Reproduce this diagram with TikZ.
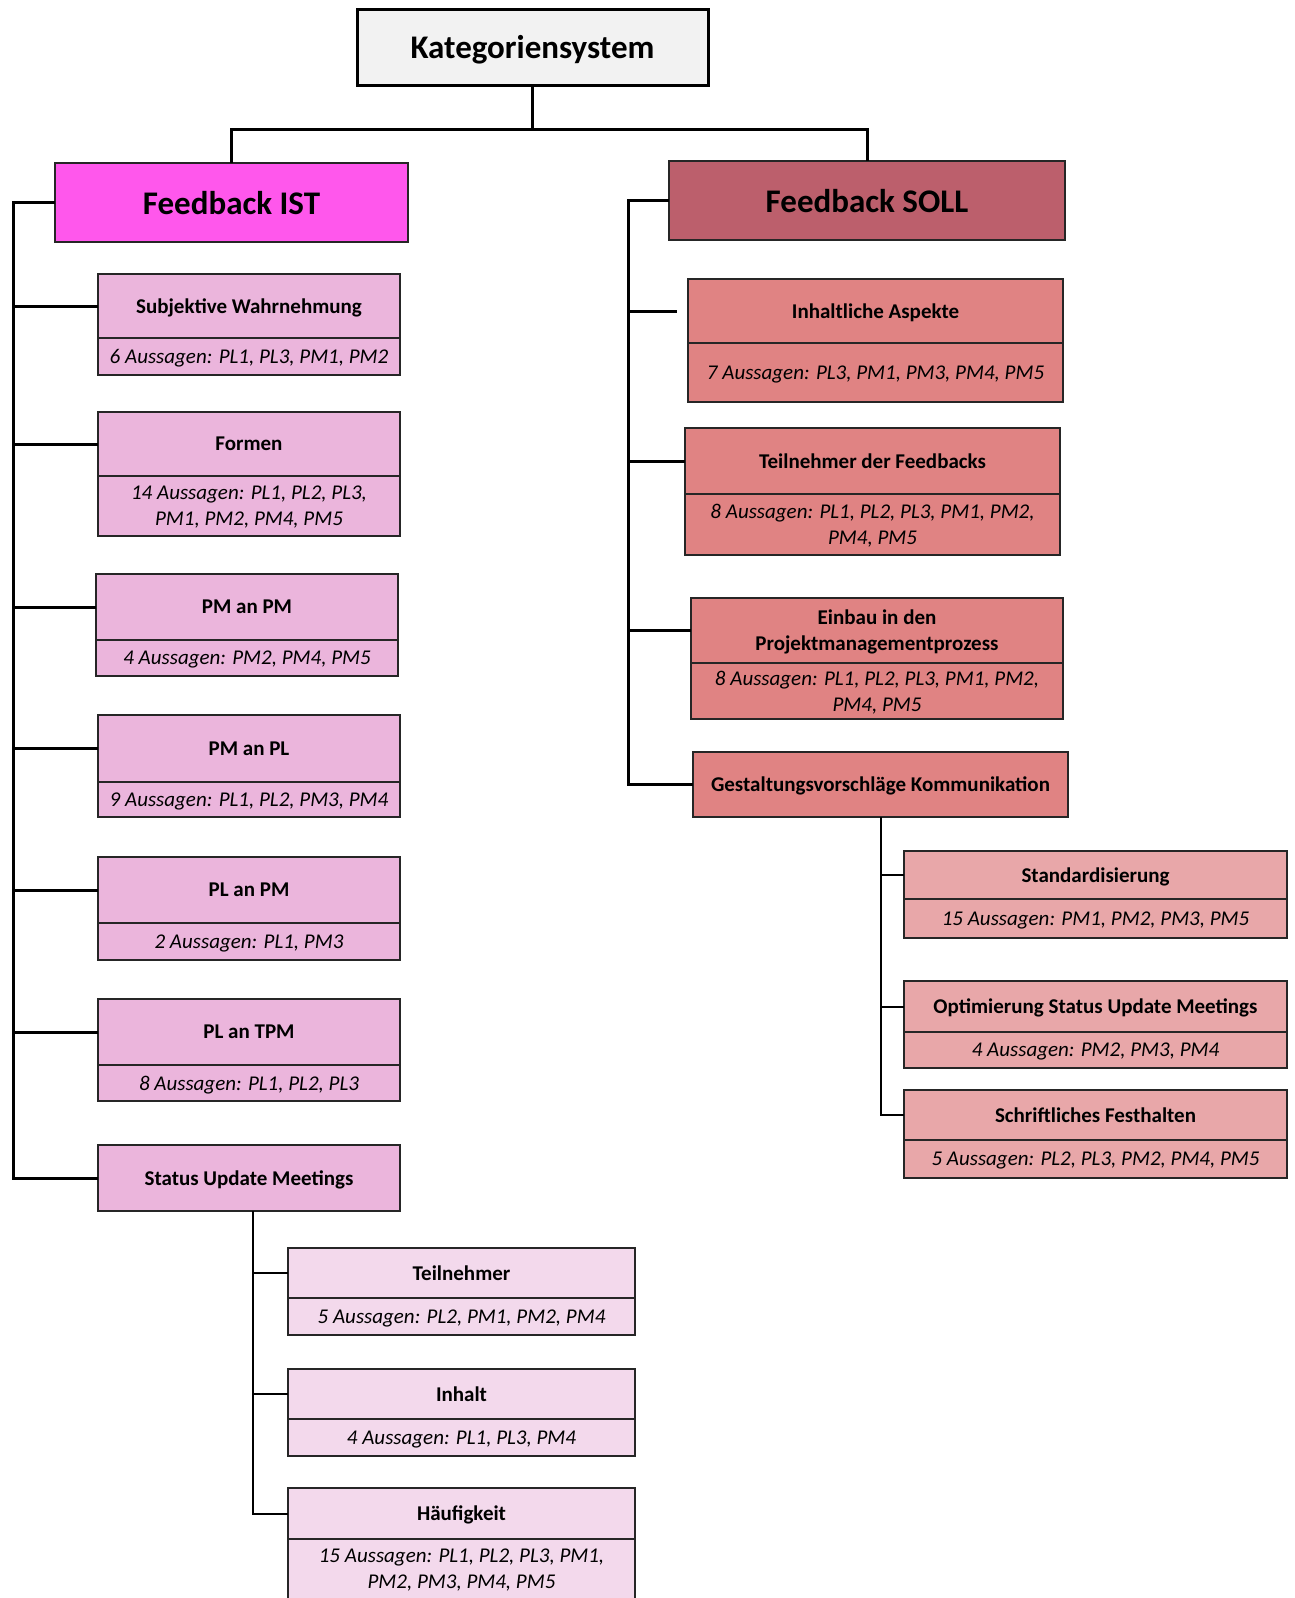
\documentclass[tikz,border=0pt]{standalone}
\usepackage{fontspec}
\setmainfont{Carlito}
\usetikzlibrary{positioning}

\definecolor{rootgray}{HTML}{F2F2F2}
\definecolor{istmagenta}{HTML}{FF57EC}
\definecolor{sollred}{HTML}{BC5F6C}
\definecolor{istlight}{HTML}{EBB5DC}
\definecolor{istpale}{HTML}{F3D9EC}
\definecolor{sollmid}{HTML}{E08383}
\definecolor{sollpale}{HTML}{E8A7A9}

\begin{document}
\begin{tikzpicture}[x=1pt, y=-1pt,
    box/.style={draw=black!85, line width=1.2pt, outer sep=0pt, inner sep=2pt, align=center, text depth=0pt},
    headbox/.style={box, anchor=north west, font=\fontsize{21}{26}\selectfont\bfseries},
    countbox/.style={box, font=\fontsize{21}{26}\selectfont\itshape},
    titlebox/.style={box, anchor=north west, font=\fontsize{33}{40}\selectfont\bfseries},
    spine/.style={line width=3pt},
    subline/.style={line width=2pt}]
\useasboundingbox (0,0) rectangle (1294,1598);

% Root
\node (root) [titlebox, fill=rootgray, draw=black, line width=3pt, minimum width=351pt, minimum height=76pt] at (357,9) {Kategoriensystem};

% Main branches
\node (ist) [titlebox, fill=istmagenta, minimum width=353pt, minimum height=79pt] at (55,163) {Feedback IST};
\node (soll) [titlebox, fill=sollred, minimum width=396pt, minimum height=79pt] at (669,161) {Feedback SOLL};

% Feedback IST categories
\node (subj) [headbox, fill=istlight, minimum width=302pt, minimum height=64pt] at (98,274) {Subjektive Wahrnehmung};
\node (subjn) [countbox, fill=istlight, minimum width=302pt, minimum height=37pt, below=0pt of subj] {6 Aussagen: PL1, PL3, PM1, PM2};
\node (formen) [headbox, fill=istlight, minimum width=302pt, minimum height=64pt] at (98,412) {Formen};
\node (formenn) [countbox, fill=istlight, minimum width=302pt, minimum height=60pt, below=0pt of formen] {14 Aussagen: PL1, PL2, PL3,\\ PM1, PM2, PM4, PM5};
\node (pmpm) [headbox, fill=istlight, minimum width=302pt, minimum height=66pt] at (96,574) {PM an PM};
\node (pmpmn) [countbox, fill=istlight, minimum width=302pt, minimum height=36pt, below=0pt of pmpm] {4 Aussagen: PM2, PM4, PM5};
\node (pmpl) [headbox, fill=istlight, minimum width=302pt, minimum height=67pt] at (98,715) {PM an PL};
\node (pmpln) [countbox, fill=istlight, minimum width=302pt, minimum height=35pt, below=0pt of pmpl] {9 Aussagen: PL1, PL2, PM3, PM4};
\node (plpm) [headbox, fill=istlight, minimum width=302pt, minimum height=66pt] at (98,857) {PL an PM};
\node (plpmn) [countbox, fill=istlight, minimum width=302pt, minimum height=37pt, below=0pt of plpm] {2 Aussagen: PL1, PM3};
\node (pltpm) [headbox, fill=istlight, minimum width=302pt, minimum height=66pt] at (98,999) {PL an TPM};
\node (pltpmn) [countbox, fill=istlight, minimum width=302pt, minimum height=36pt, below=0pt of pltpm] {8 Aussagen: PL1, PL2, PL3};
\node (sum) [headbox, fill=istlight, minimum width=302pt, minimum height=66pt] at (98,1145) {Status Update Meetings};

% Status Update Meetings
\node (teil) [headbox, fill=istpale, minimum width=347pt, minimum height=50pt] at (288,1248) {Teilnehmer};
\node (teiln) [countbox, fill=istpale, minimum width=347pt, minimum height=37pt, below=0pt of teil] {5 Aussagen: PL2, PM1, PM2, PM4};
\node (inhalt) [headbox, fill=istpale, minimum width=347pt, minimum height=50pt] at (288,1369) {Inhalt};
\node (inhaltn) [countbox, fill=istpale, minimum width=347pt, minimum height=37pt, below=0pt of inhalt] {4 Aussagen: PL1, PL3, PM4};
\node (haeuf) [headbox, fill=istpale, minimum width=347pt, minimum height=51pt] at (288,1488) {Häufigkeit};
\node (haeufn) [countbox, fill=istpale, minimum width=347pt, minimum height=60pt, below=0pt of haeuf] {15 Aussagen: PL1, PL2, PL3, PM1,\\ PM2, PM3, PM4, PM5};

% Feedback SOLL categories
\node (inh) [headbox, fill=sollmid, minimum width=375pt, minimum height=64pt] at (688,279) {Inhaltliche Aspekte};
\node (inhn) [countbox, fill=sollmid, minimum width=375pt, minimum height=59pt, below=0pt of inh] {7 Aussagen: PL3, PM1, PM3, PM4, PM5};
\node (tdf) [headbox, fill=sollmid, minimum width=375pt, minimum height=66pt] at (685,428) {Teilnehmer der Feedbacks};
\node (tdfn) [countbox, fill=sollmid, minimum width=375pt, minimum height=61pt, below=0pt of tdf] {8 Aussagen: PL1, PL2, PL3, PM1, PM2,\\ PM4, PM5};
\node (einbau) [headbox, fill=sollmid, minimum width=372pt, minimum height=65pt] at (691,598) {Einbau in den\\ Projektmanagementprozess};
\node (einbaun) [countbox, fill=sollmid, minimum width=372pt, minimum height=56pt, below=0pt of einbau] {8 Aussagen: PL1, PL2, PL3, PM1, PM2,\\ PM4, PM5};
\node (gest) [headbox, fill=sollmid, minimum width=375pt, minimum height=65pt] at (693,752) {Gestaltungsvorschläge Kommunikation};

% Gestaltungsvorschlaege Kommunikation
\node (std) [headbox, fill=sollpale, minimum width=383pt, minimum height=48pt] at (904,851) {Standardisierung};
\node (stdn) [countbox, fill=sollpale, minimum width=383pt, minimum height=39pt, below=0pt of std] {15 Aussagen: PM1, PM2, PM3, PM5};
\node (opt) [headbox, fill=sollpale, minimum width=383pt, minimum height=51pt] at (904,981) {Optimierung Status Update Meetings};
\node (optn) [countbox, fill=sollpale, minimum width=383pt, minimum height=36pt, below=0pt of opt] {4 Aussagen: PM2, PM3, PM4};
\node (schr) [headbox, fill=sollpale, minimum width=383pt, minimum height=50pt] at (904,1090) {Schriftliches Festhalten};
\node (schrn) [countbox, fill=sollpale, minimum width=383pt, minimum height=38pt, below=0pt of schr] {5 Aussagen: PL2, PL3, PM2, PM4, PM5};

% Connectors
\coordinate (istrail) at (13,202);
\coordinate (sollrail) at (628,201);
\coordinate (sumrail) at ([xshift=4pt]sum.south);

\draw[spine] (root.south) -- ++(0,44) -| (ist.north);
\draw[spine] (root.south) -- ++(0,44) -| (soll.north);

\draw[spine] (ist.west) -| (sum.west -| istrail) -- (sum.west);
\foreach \c in {subj,formen,pmpm,pmpl,plpm,pltpm}
  \draw[spine] (\c.west -| istrail) -- (\c.west);

\draw[spine] (soll.west) -| (gest.west -| sollrail) -- (gest.west);
\draw[spine, shorten >=11pt] (inh.west -| sollrail) -- (inh.west);
\foreach \c in {tdf,einbau}
  \draw[spine] (\c.west -| sollrail) -- (\c.west);

\draw[subline] (sumrail) |- (haeuf.west);
\foreach \c in {teil,inhalt}
  \draw[subline] (\c.west -| sumrail) -- (\c.west);

\draw[subline] (gest.south) |- (schr.west);
\foreach \c in {std,opt}
  \draw[subline] (\c.west -| gest.south) -- (\c.west);
\end{tikzpicture}
\end{document}
